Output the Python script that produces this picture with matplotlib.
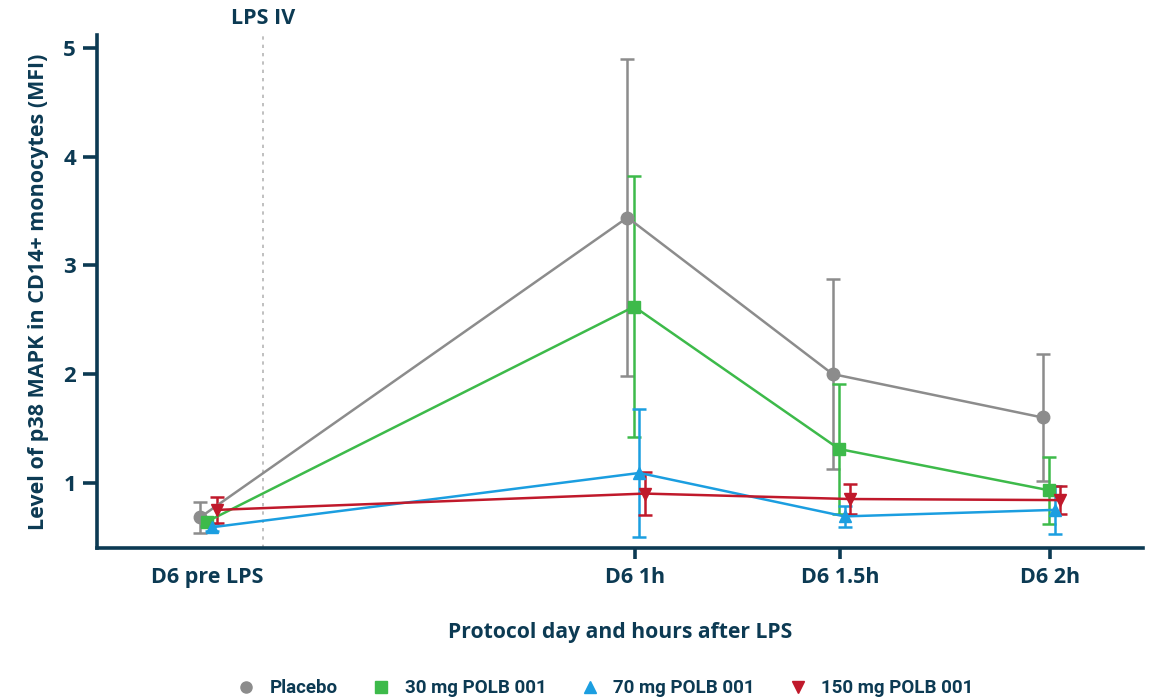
import matplotlib
matplotlib.use("Agg")
import matplotlib.pyplot as plt
from matplotlib.lines import Line2D
import numpy as np

# ---- data ----
categories = ["D6 pre LPS", "D6 1h", "D6 1.5h", "D6 2h"]
x_pos = [-0.03, 1.0, 1.494, 2.0]          # time-like positions of the categories
lps_x = 0.104

series_names = ["Placebo", "30 mg POLB 001", "70 mg POLB 001", "150 mg POLB 001"]
placebo = [0.68, 3.44, 2.00, 1.60]
placebo_err = [0.14, 1.46, 0.87, 0.58]
mg30 = [0.64, 2.62, 1.31, 0.93]
mg30_err = [0.04, 1.20, 0.60, 0.31]
mg70 = [0.59, 1.09, 0.69, 0.75]
mg70_err = [0.03, 0.59, 0.10, 0.22]
mg150 = [0.75, 0.90, 0.85, 0.84]
mg150_err = [0.12, 0.20, 0.14, 0.13]

colors = ["#8c8c8c", "#3dba4a", "#1b9ee0", "#c0192b"]
markers = ["o", "s", "^", "v"]
offsets = [-0.018, -0.002, 0.011, 0.024]

navy = "#0c3a53"
plt.rcParams['font.family'] = ['Open Sans', 'DejaVu Sans']

fig = plt.figure(figsize=(11.54, 6.98), dpi=100)
ax = fig.add_axes([0.084, 0.215, 0.9065, 0.735])

all_vals = [placebo, mg30, mg70, mg150]
all_err = [placebo_err, mg30_err, mg70_err, mg150_err]
for vals, errs, c, m, off in zip(all_vals, all_err, colors, markers, offsets):
    xs = [p + off for p in x_pos]
    ax.errorbar(xs, vals, yerr=errs, color=c, marker=m, markersize=9,
                linewidth=1.8, elinewidth=1.8, capsize=5, capthick=1.8, zorder=3)

ax.axvline(lps_x, color="#b5b5b5", linestyle=(0, (2, 3)), linewidth=1.2, zorder=1)
ax.text(lps_x, 5.17, "LPS IV", ha="center", va="bottom", fontsize=15.5,
        fontweight="bold", color=navy, transform=ax.transData, clip_on=False)

ax.set_xlim(-0.296, 2.224)
ax.set_ylim(0.40, 5.12)
ax.set_yticks([1, 2, 3, 4, 5])
ax.set_yticklabels(["1", "2", "3", "4", "5"])
ax.set_xticks(x_pos)
ax.set_xticklabels(categories)

for s in ["top", "right"]:
    ax.spines[s].set_visible(False)
for s in ["left", "bottom"]:
    ax.spines[s].set_color(navy)
    ax.spines[s].set_linewidth(2.6)

ax.tick_params(axis="y", colors=navy, width=2.6, length=10, labelsize=16, pad=5)
ax.tick_params(axis="x", colors=navy, width=2.6, length=8, labelsize=15.5, pad=6)
ax.xaxis.get_major_ticks()[0].tick1line.set_visible(False)
for lab in ax.get_xticklabels() + ax.get_yticklabels():
    lab.set_fontweight("bold")
    lab.set_color(navy)

ax.set_ylabel("Level of p38 MAPK in CD14+ monocytes (MFI)", fontsize=15.5,
              fontweight="bold", color=navy, labelpad=10)
ax.set_xlabel("Protocol day and hours after LPS", fontsize=15.2,
              fontweight="bold", color=navy, labelpad=24)

handles = [Line2D([], [], color=c, marker=m, linestyle="none", markersize=8)
           for c, m in zip(colors, markers)]
leg = fig.legend(handles, series_names, loc="center", bbox_to_anchor=(0.5225, 0.014),
                 ncol=4, frameon=False, handletextpad=0.5, columnspacing=1.56,
                 handlelength=1.5,
                 prop={"family": ["Roboto", "DejaVu Sans"],
                       "weight": "bold", "size": 13.5})
for t in leg.get_texts():
    t.set_color(navy)

fig.savefig("out.png", dpi=100)
